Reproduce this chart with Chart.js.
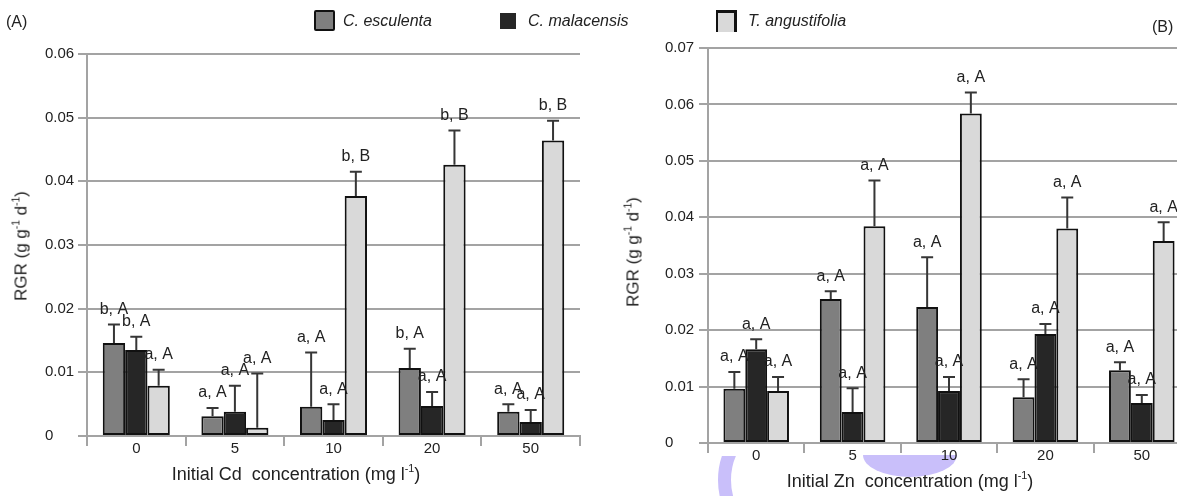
<!DOCTYPE html>
<html>
<head>
<meta charset="utf-8">
<script src="https://cdn.jsdelivr.net/npm/chart.js@4"></script>
<style>
  html, body { margin: 0; padding: 0; background: #fff; overflow: hidden; }
  body { width: 1177px; height: 496px; position: relative; font-family: "Liberation Sans", Arial, sans-serif; color: #222; }
  canvas { position: absolute; top: 0; z-index: 2; }
  .txt { position: absolute; white-space: nowrap; z-index: 3; line-height: 1; }
  .ytitle { transform: translate(-50%, -50%) rotate(-90deg); font-size: 17px; }
  .xtitle { transform: translate(-50%, -50%); font-size: 18px; }
  sup { font-size: 0.6em; vertical-align: 0.7em; line-height: 0; }
  .sw { position: absolute; box-sizing: border-box; z-index: 3; }
  .leg { font-style: italic; font-size: 16px; }
  .blob { position: absolute; z-index: 1; overflow: hidden; }
</style>
</head>
<body>
<div class="txt" style="left:6px; top:14px; font-size:16px;">(A)</div>
<div class="txt" style="left:1152px; top:19px; font-size:16px;">(B)</div>

<div class="sw" style="left:314px; top:10px; width:21px; height:21px; background:#7f7f7f; border:2px solid #111; border-radius:2px;"></div>
<div class="txt leg" style="left:343px; top:13px;">C. esculenta</div>
<div class="sw" style="left:500px; top:13px; width:16px; height:16px; background:#262626;"></div>
<div class="txt leg" style="left:528px; top:13px;">C. malacensis</div>
<div class="sw" style="left:716px; top:10px; width:21px; height:22px; background:#d9d9d9; border-top:3px solid #111; border-left:2px solid #111; border-right:3px solid #111;"></div>
<div class="txt leg" style="left:748px; top:13px;">T. angustifolia</div>

<div class="txt ytitle" style="left:21px; top:246px;">RGR (g g<sup>-1</sup> d<sup>-1</sup>)</div>
<div class="txt ytitle" style="left:633px; top:252px;">RGR (g g<sup>-1</sup> d<sup>-1</sup>)</div>
<div class="txt xtitle" style="left:296px; top:474px;">Initial Cd&nbsp; concentration (mg l<sup>-1</sup>)</div>
<div class="txt xtitle" style="left:910px; top:481px;">Initial Zn&nbsp; concentration (mg l<sup>-1</sup>)</div>

<div class="blob" style="left:700px; top:456px; width:60px; height:40px;">
  <div style="position:absolute; left:18px; top:-48px; width:144px; height:144px; box-sizing:border-box; border:13px solid rgb(201,191,250); border-radius:50%;"></div>
</div>
<div class="blob" style="left:863px; top:455px; width:94px; height:22px; background:rgb(201,191,250); border-radius:0 0 47px 47px / 0 0 22px 22px;"></div>

<canvas id="cd" width="600" height="496" style="left:0px;"></canvas>
<canvas id="zn" width="600" height="496" style="left:600px;"></canvas>

<script>
const concentrations = ["0", "5", "10", "20", "50"];
const seriesNames = ["C. esculenta", "C. malacensis", "T. angustifolia"];
const seriesColors = ["#7f7f7f", "#262626", "#d9d9d9"];

// Cd experiment (panel A)
const cdEsculenta = [0.0146, 0.0031, 0.0046, 0.0107, 0.0038];
const cdEsculentaSE = [0.0029, 0.0013, 0.0085, 0.0030, 0.0012];
const cdMalacensis = [0.0135, 0.0038, 0.0025, 0.0047, 0.0022];
const cdMalacensisSE = [0.0021, 0.0041, 0.0025, 0.0022, 0.0019];
const cdAngustifolia = [0.0079, 0.0013, 0.0377, 0.0426, 0.0464];
const cdAngustifoliaSE = [0.0025, 0.0085, 0.0038, 0.0054, 0.0031];
const cdEsculentaLetters = ["b, A", "a, A", "a, A", "b, A", "a, A"];
const cdMalacensisLetters = ["b, A", "a, A", "a, A", "a, A", "a, A"];
const cdAngustifoliaLetters = ["a, A", "a, A", "b, B", "b, B", "b, B"];

// Zn experiment (panel B)
const znEsculenta = [0.0096, 0.0255, 0.0241, 0.0081, 0.0129];
const znEsculentaSE = [0.0030, 0.0014, 0.0088, 0.0032, 0.0014];
const znMalacensis = [0.0166, 0.0055, 0.0092, 0.0193, 0.0071];
const znMalacensisSE = [0.0018, 0.0042, 0.0025, 0.0018, 0.0014];
const znAngustifolia = [0.0092, 0.0384, 0.0584, 0.0380, 0.0358];
const znAngustifoliaSE = [0.0025, 0.0081, 0.0037, 0.0055, 0.0033];
const znLetters = ["a, A", "a, A", "a, A", "a, A", "a, A"];

const FONT = '"Liberation Sans", Arial, sans-serif';
const GRID = "#a3a3a3";

// draws the upper error bar and the letter label of every bar
const errorBars = {
  id: "errorBars",
  afterDatasetsDraw(chart) {
    const ctx = chart.ctx;
    const y = chart.scales.y;
    chart.data.datasets.forEach((ds, i) => {
      chart.getDatasetMeta(i).data.forEach((bar, j) => {
        const top = y.getPixelForValue(ds.data[j] + ds.errors[j]);
        ctx.save();
        ctx.strokeStyle = "#363636";
        ctx.lineWidth = 2;
        ctx.beginPath();
        ctx.moveTo(bar.x, bar.y);
        ctx.lineTo(bar.x, top);
        ctx.moveTo(bar.x - 6, top);
        ctx.lineTo(bar.x + 6, top);
        ctx.stroke();
        ctx.fillStyle = "#222";
        ctx.font = "16px " + FONT;
        ctx.textAlign = "center";
        ctx.textBaseline = "bottom";
        ctx.fillText(ds.letters[j], bar.x, top - 7);
        ctx.restore();
      });
    });
  }
};

function makePanel(id, values, errors, letters, yMax, pad, yWidth, xHeight) {
  return new Chart(document.getElementById(id), {
    type: "bar",
    data: {
      labels: concentrations,
      datasets: values.map((v, i) => ({
        label: seriesNames[i],
        data: v,
        errors: errors[i],
        letters: letters[i],
        backgroundColor: seriesColors[i],
        borderColor: "#111",
        borderWidth: 2,
        borderSkipped: false,
        categoryPercentage: 0.68,
        barPercentage: 1.0,
      })),
    },
    options: {
      responsive: false,
      animation: false,
      layout: { padding: pad },
      plugins: { legend: { display: false }, tooltip: { enabled: false } },
      scales: {
        x: {
          afterFit(scale) { scale.height = xHeight; },
          grid: { drawOnChartArea: false, drawTicks: true, tickLength: 10, offset: true, color: GRID, lineWidth: 2 },
          border: { color: GRID, width: 2 },
          ticks: { padding: -6, color: "#222", font: { family: FONT, size: 15 } },
        },
        y: {
          min: 0,
          max: yMax,
          afterFit(scale) { scale.width = yWidth; },
          grid: { color: GRID, lineWidth: 2, tickLength: 9 },
          border: { color: GRID, width: 2 },
          ticks: {
            stepSize: 0.01,
            crossAlign: "far",
            color: "#222",
            font: { family: FONT, size: 15 },
            callback: v => (v === 0 ? "0" : v.toFixed(2)),
          },
        },
      },
    },
    plugins: [errorBars],
  });
}

makePanel("cd",
  [cdEsculenta, cdMalacensis, cdAngustifolia],
  [cdEsculentaSE, cdMalacensisSE, cdAngustifoliaSE],
  [cdEsculentaLetters, cdMalacensisLetters, cdAngustifoliaLetters],
  0.06, { left: 45, top: 54, right: 20, bottom: 0 }, 42, 60);

makePanel("zn",
  [znEsculenta, znMalacensis, znAngustifolia],
  [znEsculentaSE, znMalacensisSE, znAngustifoliaSE],
  [znLetters, znLetters, znLetters],
  0.07, { left: 65, top: 48, right: 10, bottom: 0 }, 43, 53);
</script>
</body>
</html>
